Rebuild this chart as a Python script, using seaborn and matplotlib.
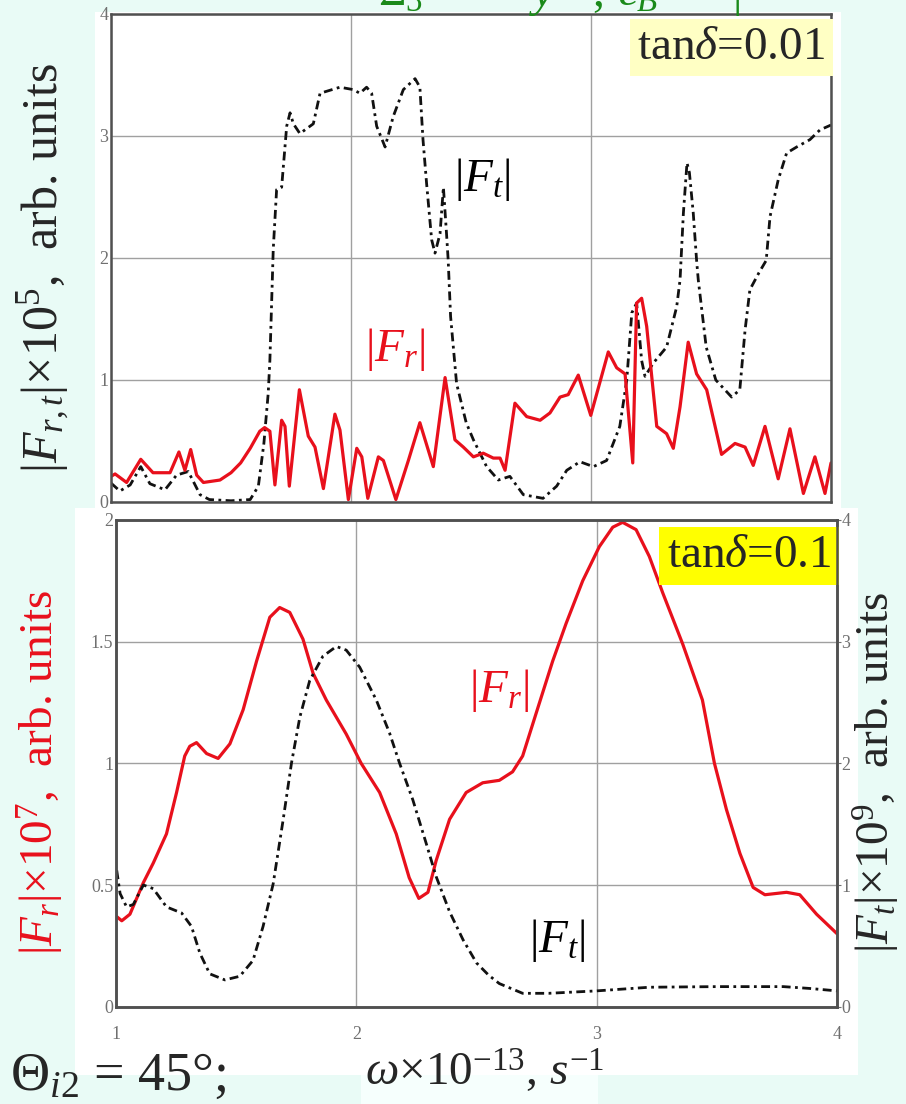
import numpy as np
import pandas as pd
import seaborn as sns
import matplotlib.pyplot as plt
from matplotlib.patches import Rectangle

#%% data (omega x 1e-13, s^-1)
# top panel, tan(delta)=0.01 : |Fr| and |Ft| (x 1e5)
w_r_top = [1.0, 1.017, 1.065, 1.124, 1.175, 1.246, 1.283, 1.308, 1.332, 1.357,
           1.385, 1.454, 1.50, 1.54, 1.58, 1.62, 1.64, 1.662, 1.683, 1.711,
           1.725, 1.743, 1.785, 1.822, 1.85, 1.885, 1.933, 1.954, 1.989, 2.024,
           2.045, 2.07, 2.114, 2.135, 2.187, 2.239, 2.287, 2.343, 2.392, 2.433,
           2.468, 2.51, 2.551, 2.593, 2.621, 2.642, 2.683, 2.732, 2.788, 2.829,
           2.871, 2.905, 2.947, 2.999, 3.072, 3.107, 3.142, 3.155, 3.174, 3.19,
           3.211, 3.232, 3.274, 3.315, 3.343, 3.371, 3.405, 3.44, 3.482, 3.544,
           3.60, 3.642, 3.676, 3.725, 3.78, 3.829, 3.885, 3.933, 3.975, 4.0]
Fr_top = [0.21, 0.23, 0.16, 0.35, 0.24, 0.24, 0.41, 0.26, 0.43, 0.22,
          0.16, 0.18, 0.24, 0.32, 0.44, 0.58, 0.61, 0.58, 0.14, 0.67,
          0.62, 0.13, 0.92, 0.54, 0.45, 0.11, 0.72, 0.59, 0.02, 0.44,
          0.37, 0.03, 0.37, 0.34, 0.02, 0.34, 0.65, 0.29, 1.02, 0.51,
          0.45, 0.37, 0.40, 0.36, 0.36, 0.26, 0.81, 0.70, 0.67, 0.73,
          0.86, 0.88, 1.04, 0.71, 1.23, 1.10, 1.05, 0.75, 0.32, 1.63,
          1.67, 1.44, 0.62, 0.56, 0.44, 0.78, 1.31, 1.05, 0.92, 0.39,
          0.48, 0.45, 0.30, 0.62, 0.19, 0.60, 0.07, 0.37, 0.07, 0.32]

w_t_top = [1.0, 1.037, 1.08, 1.124, 1.162, 1.225, 1.273, 1.322, 1.371, 1.41,
           1.50, 1.58, 1.614, 1.637, 1.655, 1.662, 1.676, 1.69, 1.711, 1.732,
           1.746, 1.76, 1.787, 1.843, 1.871, 1.954, 2.01, 2.037, 2.065, 2.086,
           2.107, 2.142, 2.176, 2.218, 2.267, 2.287, 2.30, 2.315, 2.336, 2.35,
           2.371, 2.385, 2.398, 2.405, 2.415, 2.44, 2.48, 2.51, 2.565, 2.614,
           2.662, 2.718, 2.80, 2.857, 2.899, 2.954, 3.01, 3.065, 3.12, 3.149,
           3.17, 3.19, 3.211, 3.225, 3.26, 3.315, 3.357, 3.371, 3.385, 3.40,
           3.41, 3.426, 3.44, 3.447, 3.48, 3.52, 3.586, 3.62, 3.642, 3.662,
           3.70, 3.73, 3.746, 3.78, 3.815, 3.857, 3.912, 3.954, 4.0]
Ft_top = [0.155, 0.09, 0.14, 0.29, 0.15, 0.10, 0.22, 0.25, 0.06, 0.02,
          0.01, 0.02, 0.13, 0.48, 0.89, 1.16, 2.07, 2.56, 2.58, 3.08,
          3.19, 3.10, 3.02, 3.10, 3.35, 3.40, 3.38, 3.35, 3.40, 3.35,
          3.08, 2.91, 3.16, 3.38, 3.47, 3.40, 2.97, 2.61, 2.15, 2.04,
          2.20, 2.58, 2.20, 1.98, 1.52, 0.97, 0.65, 0.51, 0.29, 0.18,
          0.21, 0.06, 0.03, 0.13, 0.26, 0.33, 0.29, 0.34, 0.62, 1.0,
          1.55, 1.63, 1.16, 1.03, 1.14, 1.27, 1.60, 1.82, 2.37, 2.78,
          2.70, 2.37, 1.98, 1.82, 1.27, 1.0, 0.86, 0.92, 1.41, 1.74,
          1.88, 1.98, 2.34, 2.64, 2.86, 2.91, 2.97, 3.05, 3.09]

# bottom panel, tan(delta)=0.1 : |Fr| (x 1e7, left) and |Ft| (x 1e9, right)
w_r_bot = [1.003, 1.024, 1.058, 1.114, 1.155, 1.21, 1.252, 1.286, 1.307, 1.335,
           1.377, 1.425, 1.474, 1.529, 1.585, 1.64, 1.681, 1.723, 1.778, 1.82,
           1.875, 1.958, 2.02, 2.097, 2.166, 2.22, 2.26, 2.298, 2.332, 2.388,
           2.457, 2.526, 2.595, 2.65, 2.692, 2.748, 2.817, 2.873, 2.942, 3.011,
           3.067, 3.108, 3.164, 3.219, 3.275, 3.358, 3.44, 3.49, 3.54, 3.596,
           3.651, 3.70, 3.79, 3.845, 3.915, 4.0]
Fr_bot = [0.37, 0.353, 0.38, 0.51, 0.59, 0.71, 0.88, 1.03, 1.07, 1.085,
          1.04, 1.02, 1.08, 1.22, 1.42, 1.60, 1.64, 1.62, 1.51, 1.37,
          1.26, 1.12, 1.0, 0.88, 0.71, 0.53, 0.445, 0.47, 0.60, 0.77,
          0.88, 0.92, 0.93, 0.965, 1.03, 1.205, 1.42, 1.575, 1.75, 1.89,
          1.97, 1.99, 1.96, 1.85, 1.70, 1.49, 1.26, 1.0, 0.81, 0.63,
          0.49, 0.46, 0.47, 0.46, 0.38, 0.30]

w_t_bot = [1.003, 1.017, 1.044, 1.072, 1.114, 1.155, 1.21, 1.273, 1.314, 1.349,
           1.39, 1.453, 1.515, 1.57, 1.612, 1.654, 1.695, 1.73, 1.765, 1.806,
           1.861, 1.917, 1.958, 2.014, 2.083, 2.138, 2.18, 2.235, 2.291, 2.332,
           2.388, 2.444, 2.50, 2.55, 2.595, 2.692, 2.80, 3.0, 3.22, 3.50,
           3.777, 3.886, 4.0]
Ft_bot = [1.12, 0.93, 0.82, 0.84, 1.0, 0.97, 0.82, 0.77, 0.66, 0.44,
          0.27, 0.22, 0.25, 0.38, 0.66, 1.01, 1.53, 2.0, 2.38, 2.68,
          2.88, 2.96, 2.93, 2.79, 2.52, 2.25, 2.0, 1.70, 1.34, 1.07,
          0.78, 0.55, 0.36, 0.26, 0.19, 0.11, 0.11, 0.13, 0.16, 0.165,
          0.165, 0.15, 0.13]

#%% style
sns.set_style('white')
plt.rcParams['font.family'] = ['Liberation Serif', 'DejaVu Serif']
plt.rcParams['mathtext.fontset'] = 'custom'
plt.rcParams['mathtext.rm'] = 'Liberation Serif'
plt.rcParams['mathtext.it'] = 'Liberation Serif:italic'
plt.rcParams['mathtext.bf'] = 'Liberation Serif:bold'
plt.rcParams['mathtext.fallback'] = 'stix'

red = '#e8101c'
dashdot = (0, (3.2, 1.6, 1.0, 1.6))
bg = '#e9fbf6'
grid_c = '#a0a0a0'
spine_c = '#505050'
tick_c = '#707070'
big = 34

W, H = 906, 1104
fig = plt.figure(figsize=(W / 100, H / 100), dpi=100, facecolor=bg)

def px_rect(x0, y0, x1, y1, fc):
    fig.patches.append(Rectangle((x0 / W, 1 - y1 / H), (x1 - x0) / W, (y1 - y0) / H,
                                 transform=fig.transFigure, fc=fc, ec='none', zorder=-5))

px_rect(95, 12, 841, 508, 'white')
px_rect(75, 508, 858, 1075, 'white')
px_rect(361, 1075, 598, 1104, '#f6fffd')

ax1 = fig.add_axes([111 / W, 1 - 502 / H, 720 / W, 488 / H])
ax2 = fig.add_axes([116 / W, 1 - 1006.7 / H, 721 / W, 486.8 / H])
ax2r = ax2.twinx()

#%% top panel
df_r = pd.DataFrame({'w': w_r_top, 'F': Fr_top})
df_t = pd.DataFrame({'w': w_t_top, 'F': Ft_top})
sns.lineplot(data=df_t, x='w', y='F', ax=ax1, color='#111111', lw=2.0,
             linestyle=dashdot, estimator=None, sort=False, legend=False)
sns.lineplot(data=df_r, x='w', y='F', ax=ax1, color=red, lw=2.3,
             estimator=None, sort=False, legend=False)
ax1.set_xlim(1, 4)
ax1.set_ylim(0, 4)
ax1.set_xticks([1, 2, 3, 4])
ax1.set_yticks([0, 1, 2, 3, 4])
ax1.tick_params(axis='x', labelbottom=False, length=0)
ax1.tick_params(axis='y', labelsize=13, colors=tick_c, length=0, pad=2)

ax1.text(2.43, 2.64, r'$|F_t|$', fontsize=big, color='black', va='center')
ax1.text(2.06, 1.25, r'$|F_r|$', fontsize=big, color=red, va='center')
ax1.text(0.992, 0.975, r'tan$\delta$=0.01', transform=ax1.transAxes, fontsize=big,
         ha='right', va='top',
         bbox=dict(boxstyle='square,pad=0.16', fc='#ffffc4', ec='none'))

#%% bottom panel
df_rb = pd.DataFrame({'w': w_r_bot, 'F': Fr_bot})
df_tb = pd.DataFrame({'w': w_t_bot, 'F': Ft_bot})
sns.lineplot(data=df_rb, x='w', y='F', ax=ax2, color=red, lw=2.3,
             estimator=None, sort=False, legend=False)
sns.lineplot(data=df_tb, x='w', y='F', ax=ax2r, color='#111111', lw=2.0,
             linestyle=dashdot, estimator=None, sort=False, legend=False)
ax2.set_xlim(1, 4)
ax2.set_ylim(0, 2)
ax2r.set_ylim(0, 4)
ax2.set_xticks([1, 2, 3, 4])
ax2.set_xticklabels(['1', '2', '3', '4'])
ax2.set_yticks([0, 0.5, 1, 1.5, 2])
ax2.set_yticklabels(['0', '0.5', '1', '1.5', '2'])
ax2r.set_yticks([0, 1, 2, 3, 4])
ax2.tick_params(axis='x', labelsize=13, colors=tick_c, length=0, pad=14)
ax2.tick_params(axis='y', labelsize=13, colors=tick_c, length=0, pad=2)
ax2r.tick_params(axis='y', labelsize=13, colors=tick_c, length=3, pad=0)

ax2.text(2.47, 1.30, r'$|F_r|$', fontsize=big, color=red, va='center')
ax2.text(2.72, 0.27, r'$|F_t|$', fontsize=big, color='black', va='center')
ax2.text(0.992, 0.97, r'tan$\delta$=0.1', transform=ax2.transAxes, fontsize=big,
         ha='right', va='top', zorder=10,
         bbox=dict(boxstyle='square,pad=0.16', fc='#ffff00', ec='none'))

for a in (ax1, ax2):
    a.set_facecolor('white')
    a.grid(True, color=grid_c, lw=1.0)
    a.set_xlabel('')
    a.set_ylabel('')
    for s in a.spines.values():
        s.set_color(spine_c)
        s.set_linewidth(1.8)
ax2r.set_ylabel('')
ax2r.grid(False)
for s in ax2r.spines.values():
    s.set_color(spine_c)
    s.set_linewidth(1.8)

#%% figure texts
fig.text(44 / W, 1 - 268 / H, r'$|F_{r,t}|$×10$^5$,  arb. units', rotation=90,
         fontsize=36, ha='center', va='center')
fig.text(40 / W, 1 - 772 / H, r'$|F_r|$×10$^7$,  arb. units', rotation=90,
         fontsize=big, color=red, ha='center', va='center')
fig.text(876 / W, 1 - 772 / H, r'$|F_t|$×10$^9$,  arb. units', rotation=90,
         fontsize=big, ha='center', va='center')
fig.text(10 / W, 1 - 1077 / H, r'$\Theta_{i2}$ = 45°;', fontsize=39, ha='left', va='center')
fig.text(365 / W, 1 - 1072 / H, r'$\omega$×10$^{-13}$, $s^{-1}$', fontsize=34,
         ha='left', va='center')

# cut-off green heading at the very top (only its lower edge is in the picture)
green = '#1a8a1a'
for xp, s in [(378, r'$\Sigma_3$'), (529, r'$y$'), (592, ','), (618, r'$\varepsilon_B$'),
              (732, '|')]:
    fig.text(xp / W, 1 - 6 / H, s, fontsize=big, color=green, ha='left', va='baseline')

fig.savefig('out.png', dpi=100, facecolor=bg)
